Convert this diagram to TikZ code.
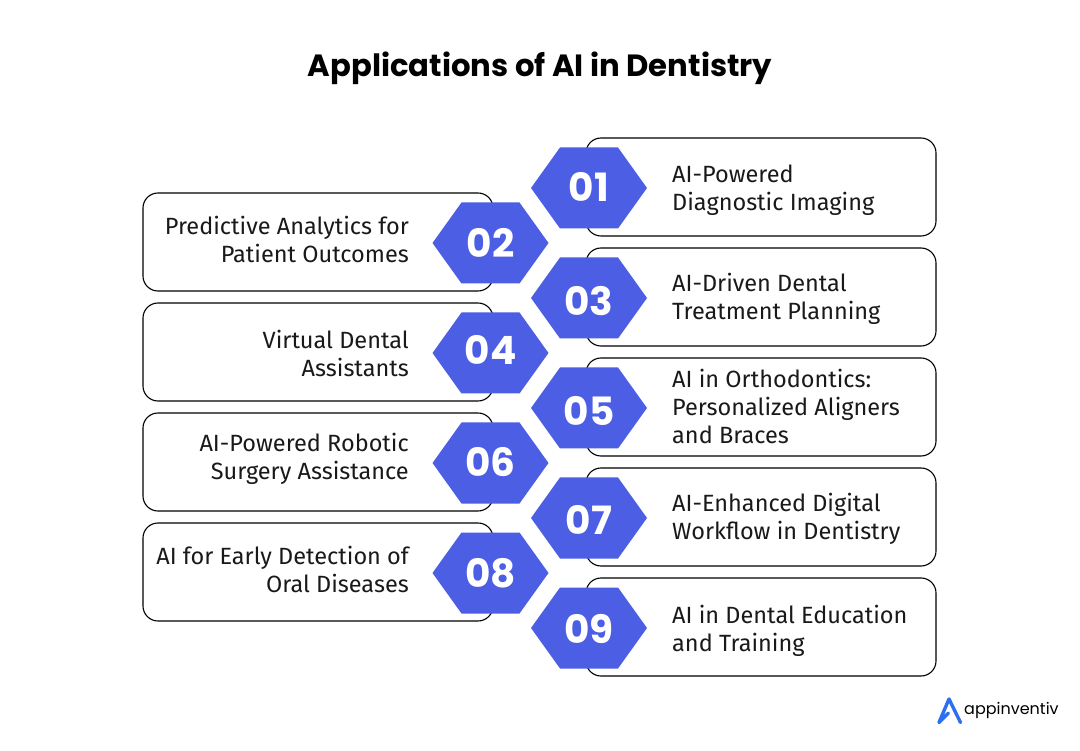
\documentclass[tikz,border=0pt]{standalone}
\usepackage{fontspec}
\setmainfont{Fira Sans}
\newfontfamily\titlefont{Poppins}
\usetikzlibrary{positioning}
\definecolor{hexblue}{HTML}{4B5EE4}
\definecolor{logoblue}{HTML}{2B70F0}
\tikzset{
  itembox/.style={draw=black, line width=1.1pt, rounded corners=15pt, fill=white, minimum width=350pt, minimum height=98pt, inner sep=0pt, outer sep=0pt},
  hexnum/.style={text=white, font=\titlefont\bfseries\fontsize{39}{39}\selectfont, inner sep=0pt},
  itemtext/.style={font=\fontsize{23.5}{28}\selectfont, inner sep=0pt, text=black!90}
}
\newcommand{\hexat}[2]{\fill[hexblue] (#1-58,#2) -- (#1-29,#2-40.5) -- (#1+29,#2-40.5) -- (#1+58,#2) -- (#1+29,#2+40.5) -- (#1-29,#2+40.5) -- cycle;}
\begin{document}
\begin{tikzpicture}[x=1pt, y=-1pt]
    \useasboundingbox (0,0) rectangle (1080,751);

    % Title
    \node[font=\titlefont\bfseries\fontsize{30.7}{36}\selectfont] (title) at (540,68) {Applications of AI in Dentistry};

    % Right column
    \foreach \n/\cy/\ny/\ty/\txt in {01/187/187/190/{AI-Powered\\Diagnostic Imaging},
                             03/297/301/299/{AI-Driven Dental\\Treatment Planning},
                             05/407/411/406/{AI in Orthodontics:\\Personalized Aligners\\and Braces},
                             07/517/520/519/{AI-Enhanced Digital\\Workflow in Dentistry},
                             09/627/629/631/{AI in Dental Education\\and Training}} {
        \node[itembox] (box\n) at (761,\cy) {};
        \hexat{589}{\cy+1}
        \node[hexnum] (hex\n) at (589,\ny) {\n};
        \node[itemtext, align=left, anchor=west] (txt\n) at (672,\ty) {\txt};
    }

    % Left column
    \foreach \n/\cy/\ny/\ty/\txt in {02/242/243/239/{Predictive Analytics for\\Patient Outcomes},
                             04/352/350/353/{Virtual Dental\\Assistants},
                             06/462/462/459/{AI-Powered Robotic\\Surgery Assistance},
                             08/572/573/569/{AI for Early Detection of\\Oral Diseases}} {
        \node[itembox] (box\n) at (318,\cy) {};
        \hexat{490.5}{\cy+1}
        \node[hexnum] (hex\n) at (490.5,\ny) {\n};
        \node[itemtext, align=right, anchor=east] (txt\n) at (409,\ty) {\txt};
    }

    % Logo
    \draw[logoblue, line width=3.4pt, line cap=round, line join=round] (948.5,713) -- (939,722.5) -- (949,699) -- (960.5,722.5);
    \node[font=\titlefont\fontsize{16}{16}\selectfont, anchor=west, inner sep=0pt] (logo) at (964,710) {appinventiv};
\end{tikzpicture}
\end{document}
